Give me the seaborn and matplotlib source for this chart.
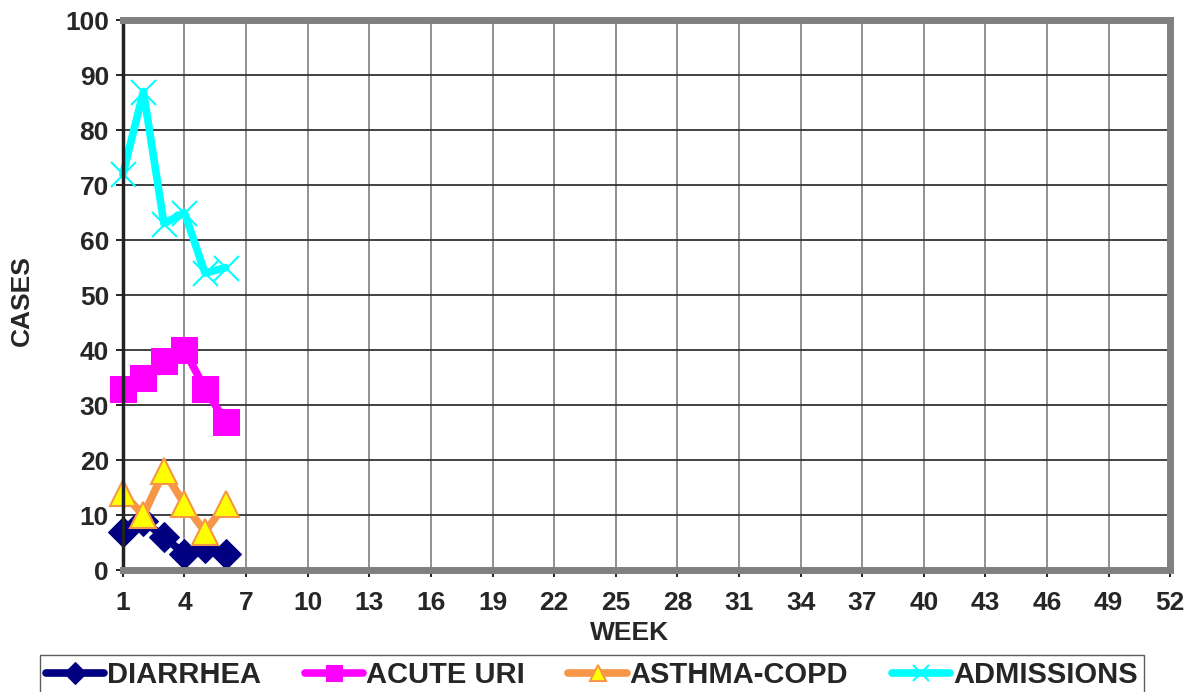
import pandas as pd
import matplotlib
matplotlib.use("Agg")
import matplotlib.pyplot as plt
import seaborn as sns
from matplotlib import font_manager

# Data
weeks = [1, 2, 3, 4, 5, 6]
diarrhea = [7, 9, 6, 3, 4, 3]
acute_uri = [33, 35, 38, 40, 33, 27]
asthma_copd = [14, 10, 18, 12, 7, 12]
admissions = [72, 87, 63, 65, 54, 55]

x_ticks = list(range(1, 53, 3))
y_ticks = list(range(0, 101, 10))

series = [
    ("DIARRHEA", diarrhea, dict(color="#000080", marker="D", markersize=15,
                               markerfacecolor="#000080", markeredgecolor="#000080")),
    ("ACUTE URI", acute_uri, dict(color="#FF00FF", marker="s", markersize=19,
                                  markerfacecolor="#FF00FF", markeredgecolor="#FF00FF")),
    ("ASTHMA-COPD", asthma_copd, dict(color="#F79646", marker="^", markersize=19,
                                      markerfacecolor="#FFFF00", markeredgecolor="#F79646",
                                      markeredgewidth=1.5)),
    ("ADMISSIONS", admissions, dict(color="#00FFFF", marker="x", markersize=18,
                                    markeredgecolor="#00FFFF", markeredgewidth=1.5)),
]


def main():
    sns.set_style("white")
    plt.rcParams["font.family"] = ["Liberation Sans", "DejaVu Sans"]
    plt.rcParams["font.weight"] = "bold"

    names = {f.name for f in font_manager.fontManager.ttflist}
    legend_family = "Liberation Sans Narrow" if "Liberation Sans Narrow" in names else "Liberation Sans"

    fig = plt.figure(figsize=(11.93, 6.92), dpi=100)
    ax = fig.add_axes([0.103, 0.176, 0.878, 0.795])

    for name, values, style in series:
        df = pd.DataFrame({"week": weeks, "cases": values})
        sns.lineplot(data=df, x="week", y="cases", ax=ax, label=name,
                     linewidth=5.5, clip_on=False, **style)

    ax.set_xlim(1, 52)
    ax.set_ylim(0, 100)
    ax.set_xticks(x_ticks)
    ax.set_yticks(y_ticks)
    ax.tick_params(axis="both", labelsize=19, direction="out", length=5,
                   width=1.2, color="black", left=True, bottom=True)
    ax.tick_params(axis="x", pad=10)
    ax.tick_params(axis="y", pad=5)
    for lab in ax.get_xticklabels() + ax.get_yticklabels():
        lab.set_fontweight("bold")

    ax.grid(axis="y", color="#333333", linewidth=1.3)
    ax.grid(axis="x", color="#888888", linewidth=1.3)
    ax.set_axisbelow(True)

    for side in ["top", "right", "bottom"]:
        ax.spines[side].set_color("#808080")
        ax.spines[side].set_linewidth(5)
    ax.spines["left"].set_color("#222222")
    ax.spines["left"].set_linewidth(2.5)

    ax.set_xlabel("")
    fig.text(0.528, 0.085, "WEEK", fontsize=19, fontweight="bold",
             ha="center", va="center")
    ax.set_ylabel("")
    fig.text(0.018, 0.565, "CASES", fontsize=19, fontweight="bold",
             rotation=90, ha="center", va="center")

    leg = fig.legend(loc="lower center", bbox_to_anchor=(0.496, -0.025), ncol=4,
                     frameon=True, fancybox=False, edgecolor="#333333",
                     prop={"family": legend_family, "size": 21, "weight": "bold"},
                     handlelength=2.0, handletextpad=0.1, columnspacing=1.5,
                     borderpad=0.2)
    leg.get_frame().set_linewidth(1.0)
    ax.get_legend().remove()
    for h in leg.get_lines():
        h.set_markersize(11)

    fig.savefig("out.png", dpi=100)
    plt.close(fig)


if __name__ == "__main__":
    main()
